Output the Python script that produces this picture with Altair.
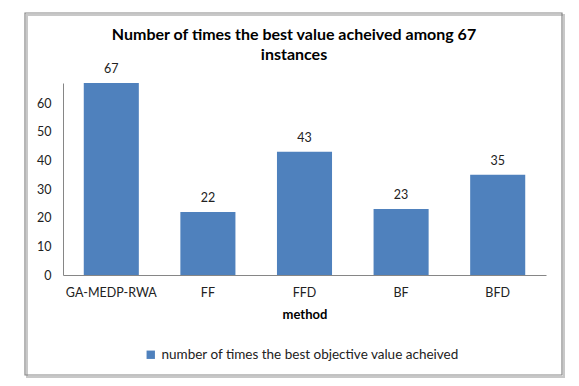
import altair as alt
import pandas as pd

methods = ["GA-MEDP-RWA", "FF", "FFD", "BF", "BFD"]
counts = [67, 22, 43, 23, 35]
series_name = "number of times the best objective value acheived"
title_lines = ["Number of times the best value acheived among 67", "instances"]
y_ticks = [0, 10, 20, 30, 40, 50, 60]

df = pd.DataFrame({"method": methods, "count": counts, "series": [series_name] * len(methods)})

FONT = "Lato"
BLUE = "#4F81BD"
GREY = "#868686"

y_axis = alt.Axis(values=y_ticks, grid=False, ticks=False, domainColor=GREY,
                  labelOverlap=False, labelPadding=12, labelFontSize=12.5,
                  labelColor="#222222")
y_scale = alt.Scale(domain=[0, 67], nice=False, zero=True)
x_axis = alt.Axis(labelAngle=0, ticks=False, domainColor=GREY, labelPadding=11,
                  titleFontWeight="bold", titlePadding=10, labelFontSize=12.5,
                  titleFontSize=13, labelColor="#222222", titleColor="#000000")
x_scale = alt.Scale(paddingInner=0.43, paddingOuter=0.215)

base = alt.Chart(df)

bars = base.mark_bar(color=BLUE).encode(
    x=alt.X("method:N", sort=methods, title="method", scale=x_scale, axis=x_axis),
    y=alt.Y("count:Q", title=None, scale=y_scale, axis=y_axis),
    color=alt.Color("series:N", scale=alt.Scale(range=[BLUE]),
                    legend=alt.Legend(title=None, orient="none", legendX=81, legendY=265,
                                      symbolType="square", symbolSize=70, labelFontSize=13.5,
                                      labelLimit=0, labelColor="#222222",
                                      symbolStrokeWidth=0)),
)

labels = base.mark_text(dy=-14, fontSize=12.5, color="#222222", font=FONT).encode(
    x=alt.X("method:N", sort=methods, title="method", scale=x_scale, axis=x_axis),
    y=alt.Y("count:Q", title=None, scale=y_scale, axis=y_axis),
    text=alt.Text("count:Q"),
)

title_df = pd.DataFrame({"line": title_lines})
title1 = alt.Chart(title_df.iloc[[0]]).mark_text(
    fontSize=16, fontWeight="bold", font=FONT, color="#000000", align="center", baseline="middle"
).encode(text="line:N", x=alt.value(231), y=alt.value(-48))
title2 = alt.Chart(title_df.iloc[[1]]).mark_text(
    fontSize=16, fontWeight="bold", font=FONT, color="#000000", align="center", baseline="middle"
).encode(text="line:N", x=alt.value(231), y=alt.value(-28))

frame_df = pd.DataFrame({"k": [0]})
shadow = alt.Chart(frame_df).mark_rect(fill=None, stroke="#c8c8c8", strokeWidth=2).encode(
    x=alt.value(-36), x2=alt.value(501), y=alt.value(-68), y2=alt.value(294)
)
frame = alt.Chart(frame_df).mark_rect(fill=None, stroke=GREY, strokeWidth=1.2).encode(
    x=alt.value(-38), x2=alt.value(499), y=alt.value(-70), y2=alt.value(292)
)

chart = alt.layer(shadow, frame, bars, labels, title1, title2).properties(
    width=483,
    height=192,
    autosize=alt.AutoSizeParams(type="none"),
    padding={"left": 55, "top": 75, "right": 25, "bottom": 103},
).configure(font=FONT).configure_view(stroke=None)

chart.save("out.html", embed_options={"renderer": "svg", "actions": False})
